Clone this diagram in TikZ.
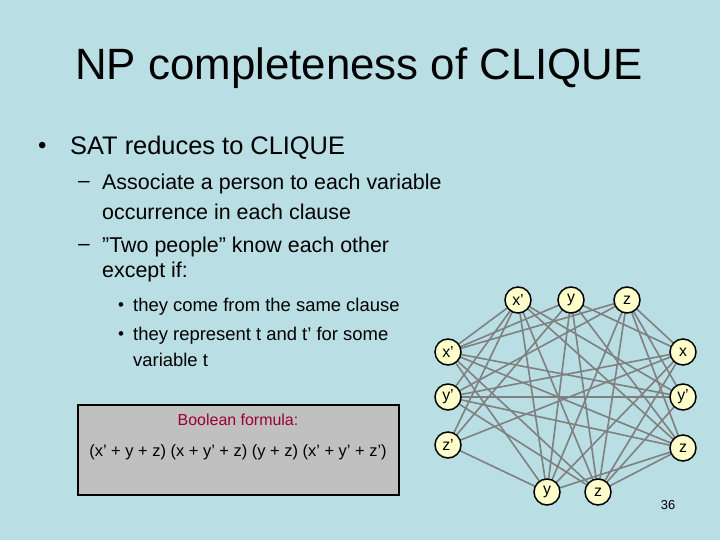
\documentclass[tikz,border=0pt]{standalone}
\usepackage{fontspec}
\setmainfont{Liberation Sans}
\definecolor{slidebg}{RGB}{185,222,228}
\definecolor{nodefill}{RGB}{255,255,204}
\definecolor{edgegray}{RGB}{128,128,128}
\definecolor{boxgray}{RGB}{192,192,192}
\definecolor{formred}{RGB}{153,0,51}
\begin{document}
\begin{tikzpicture}[x=1bp,y=-1bp,
    person/.style={circle,draw,line width=1.5bp,fill=nodefill,minimum size=26bp,inner sep=0pt,font=\fontsize{16}{16}\selectfont},
    knows/.style={draw=edgegray,line width=1.6bp},
    txt/.style={anchor=west,inner sep=0pt}]
\fill[slidebg] (0,0) rectangle (720,540);
\useasboundingbox (0,0) rectangle (720,540);
% title and bullets
\node (title) at (359,68) {\fontsize{44}{44}\selectfont NP completeness of CLIQUE};
\node[txt] (b1) at (38,148) {\fontsize{24}{24}\selectfont \textbullet};
\node[txt] (b1t) at (70,148) {\fontsize{25.5}{26}\selectfont SAT reduces to CLIQUE};
\node[txt] (s1) at (78,184) {\fontsize{21}{21}\selectfont --};
\node[txt] (s1t) at (102,184) {\fontsize{21.5}{21}\selectfont Associate a person to each variable};
\node[txt] (s1b) at (102,212) {\fontsize{21.5}{21}\selectfont occurrence in each clause};
\node[txt] (s2) at (78,247) {\fontsize{21}{21}\selectfont --};
\node[txt] (s2t) at (102,247) {\fontsize{21.5}{21}\selectfont ”Two people” know each other};
\node[txt] (s2b) at (102,272) {\fontsize{21.5}{21}\selectfont except if:};
\node[txt] (t1) at (118,307) {\fontsize{17}{17}\selectfont \textbullet};
\node[txt] (t1t) at (133,307) {\fontsize{18.5}{18}\selectfont they come from the same clause};
\node[txt] (t2) at (118,336) {\fontsize{17}{17}\selectfont \textbullet};
\node[txt] (t2t) at (133,336) {\fontsize{18.5}{18}\selectfont they represent t and t’ for some};
\node[txt] (t2b) at (133,360) {\fontsize{18.5}{18}\selectfont variable t};
% formula box
\draw[fill=boxgray,line width=2bp] (78,405) rectangle (399,495);
\node (bf) at (238,420) {\fontsize{16}{16}\selectfont\color{formred}Boolean formula:};
\node (form) at (238,452) {\fontsize{16.5}{16}\selectfont (x' + y + z) (x + y' + z) (y + z) (x' + y' + z')};
% edges first, nodes on top
\coordinate (a1) at (518,300); \coordinate (a2) at (571,300); \coordinate (a3) at (627,300);
\coordinate (b1c) at (683,352); \coordinate (b2) at (683,397); \coordinate (b3) at (683,448);
\coordinate (c1) at (547,492); \coordinate (c2) at (598,492);
\coordinate (d1) at (448,352); \coordinate (d2) at (448,397); \coordinate (d3) at (448,445);
\foreach \u/\v in {a1/b2,a1/b3,a2/b1c,a2/b3,a3/b1c,a3/b2,a3/b3,
    a1/c1,a1/c2,a2/c1,a2/c2,a3/c1,a3/c2,
    a1/d1,a1/d2,a1/d3,a2/d1,a2/d3,a3/d1,a3/d2,
    b1c/c1,b1c/c2,b2/c2,b3/c1,b3/c2,
    b1c/d2,b1c/d3,b2/d1,b2/d2,b3/d1,b3/d2,
    c1/d1,c1/d3,c2/d1,c2/d2}
  \draw[knows] (\u) -- (\v);
\node[person] (na1) at (a1) {x'};
\node[person] (na2) at (a2) {y};
\node[person] (na3) at (a3) {z};
\node[person] (nb1) at (b1c) {x};
\node[person] (nb2) at (b2) {y'};
\node[person] (nb3) at (b3) {z};
\node[person] (nc1) at (c1) {y};
\node[person] (nc2) at (c2) {z};
\node[person] (nd1) at (d1) {x'};
\node[person] (nd2) at (d2) {y'};
\node[person] (nd3) at (d3) {z'};
\node (page) at (668,505) {\fontsize{13}{13}\selectfont 36};
\end{tikzpicture}
\end{document}
